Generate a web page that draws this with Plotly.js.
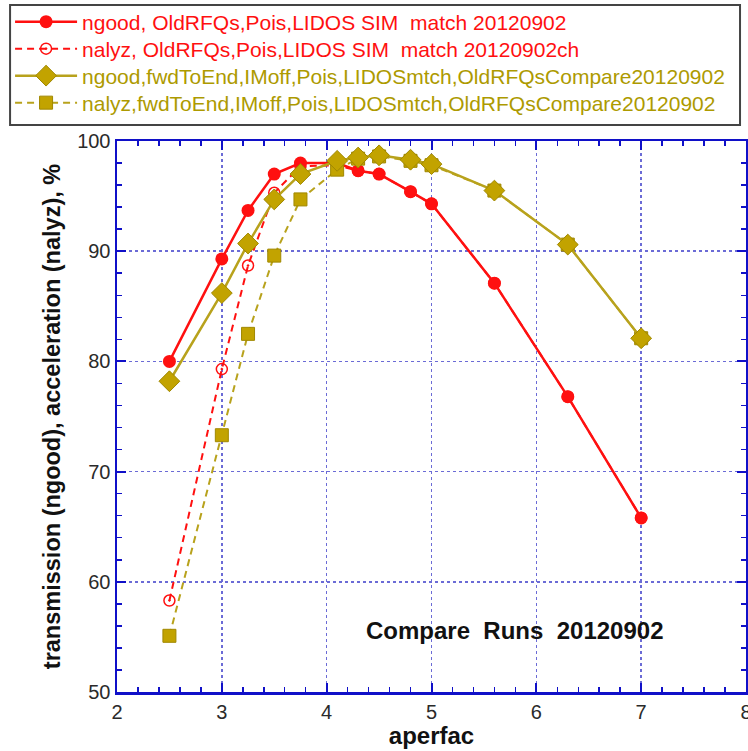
<!DOCTYPE html>
<html>
<head>
<meta charset="utf-8">
<script src="https://cdn.plot.ly/plotly-3.0.1.min.js"></script>
<style>html,body{margin:0;padding:0;background:#fff;}#chart{width:748px;height:751px;}</style>
</head>
<body>
<div id="chart"></div>
<script>
// Data
const aperfac = [2.5, 3.0, 3.25, 3.5, 3.75, 4.1, 4.3, 4.5, 4.8, 5.0, 5.6, 6.3, 7.0];
const ngoodOld = [80.0, 89.3, 93.7, 97.0, 98.0, 98.0, 97.3, 97.0, 95.4, 94.3, 87.1, 76.8, 65.8];
const nalyzOld = [58.3, 79.3, 88.7, 95.3, 97.7, 97.8, 97.3, 97.0, 95.4, 94.3, 87.1, 76.8, 65.8];
const ngoodFwd = [78.2, 86.2, 90.7, 94.7, 97.0, 98.2, 98.5, 98.7, 98.3, 97.9, 95.5, 90.6, 82.1];
const nalyzFwd = [55.1, 73.3, 82.5, 89.6, 94.7, 97.4, 98.4, 98.6, 98.2, 97.8, 95.5, 90.6, 82.1];
const seriesNames = [
  "ngood, OldRFQs,Pois,LIDOS SIM  match 20120902",
  "nalyz, OldRFQs,Pois,LIDOS SIM  match 20120902ch",
  "ngood,fwdToEnd,IMoff,Pois,LIDOSmtch,OldRFQsCompare20120902",
  "nalyz,fwdToEnd,IMoff,Pois,LIDOSmtch,OldRFQsCompare20120902"
];
const xTickVals = [2, 3, 4, 5, 6, 7, 8];
const yTickVals = [50, 60, 70, 80, 90, 100];
const noteText = "Compare  Runs  20120902";

const RED = "#ff1010";
const OLIVE = "#b8a21c";
const OLIVE_M = "#c2a300";
const OLIVE_TXT = "#ad9a00";
const AXC = "#1010c8";
const FONT = "Liberation Sans, Arial, Helvetica, sans-serif";

function lbl(t, c) { return '<span style="color:' + c + '">' + t + '</span>'; }

const traces = [
  { x: aperfac, y: nalyzOld, name: lbl(seriesNames[1], RED), legend: "legend2", type: "scatter", mode: "lines+markers",
    line: { color: RED, width: 2, dash: "7px,5px" },
    marker: { symbol: "circle-open-dot", size: 11, color: RED, line: { color: RED, width: 1.5 } } },
  { x: aperfac, y: ngoodOld, name: lbl(seriesNames[0], RED), legend: "legend", type: "scatter", mode: "lines+markers",
    line: { color: RED, width: 2.5 },
    marker: { symbol: "circle", size: 13, color: RED } },
  { x: aperfac, y: nalyzFwd, name: lbl(seriesNames[3], OLIVE_TXT), legend: "legend4", type: "scatter", mode: "lines+markers",
    line: { color: OLIVE, width: 2, dash: "7px,5px" },
    marker: { symbol: "square", size: 13, color: OLIVE_M, line: { color: "#a08800", width: 1 } } },
  { x: aperfac, y: ngoodFwd, name: lbl(seriesNames[2], OLIVE_TXT), legend: "legend3", type: "scatter", mode: "lines+markers",
    line: { color: OLIVE, width: 2.5 },
    marker: { symbol: "diamond", size: 16, color: OLIVE_M, line: { color: "#a08800", width: 1 } } }
];

const axisCommon = {
  showline: true, linecolor: AXC, linewidth: 2.5, mirror: "ticks",
  ticks: "inside", ticklen: 9, tickwidth: 2, tickcolor: AXC,
  showgrid: true, gridcolor: "#6b6bd6", gridwidth: 1.5, griddash: "dot",
  zeroline: false, tickmode: "linear", ticklabeloverflow: "allow",
  tickfont: { family: FONT, size: 20, color: "#2a2a2a" }
};

// plot area: top 141px, height 551px -> paper y for a pixel row
function legendAt(pxY) {
  return {
    x: -0.170, xanchor: "left", y: (692 - pxY) / 551, yanchor: "middle",
    xref: "paper", yref: "paper", itemwidth: 62,
    bgcolor: "rgba(0,0,0,0)", borderwidth: 0,
    font: { family: FONT, size: 21 }
  };
}

const layout = {
  width: 748, height: 751,
  margin: { l: 117, r: 2, t: 141, b: 59 },
  paper_bgcolor: "#fff", plot_bgcolor: "#fff",
  showlegend: true,
  legend: legendAt(22),
  legend2: legendAt(49),
  legend3: legendAt(76),
  legend4: legendAt(103),
  xaxis: Object.assign({}, axisCommon, {
    range: [xTickVals[0], xTickVals[xTickVals.length - 1]],
    tick0: xTickVals[0], dtick: xTickVals[1] - xTickVals[0],
    minor: { ticks: "inside", ticklen: 5, tickwidth: 1.5, tickcolor: AXC, dtick: 0.2, showgrid: false },
    title: { text: "aperfac", standoff: 4, font: { family: FONT, size: 24, color: "#111", weight: "bold" } }
  }),
  yaxis: Object.assign({}, axisCommon, {
    range: [yTickVals[0], yTickVals[yTickVals.length - 1]],
    tick0: yTickVals[0], dtick: yTickVals[1] - yTickVals[0],
    minor: { ticks: "inside", ticklen: 5, tickwidth: 1.5, tickcolor: AXC, dtick: 2, showgrid: false },
    title: { text: "transmission (ngood), acceleration (nalyz), %", standoff: 10, font: { family: FONT, size: 23.5, color: "#111", weight: "bold" } }
  }),
  shapes: [
    { type: "rect", xref: "paper", yref: "paper", layer: "above",
      x0: -0.170, x1: 0.9905, y0: 1.029, y1: 1.2468,
      line: { color: "#444", width: 2 }, fillcolor: "rgba(0,0,0,0)" }
  ],
  annotations: [
    { x: 5.79, y: 55.6, xref: "x", yref: "y", text: noteText, showarrow: false,
      font: { family: FONT, size: 24, color: "#111", weight: "bold" } }
  ]
};

Plotly.newPlot("chart", traces, layout, { displayModeBar: false, staticPlot: true });
</script>
</body>
</html>
